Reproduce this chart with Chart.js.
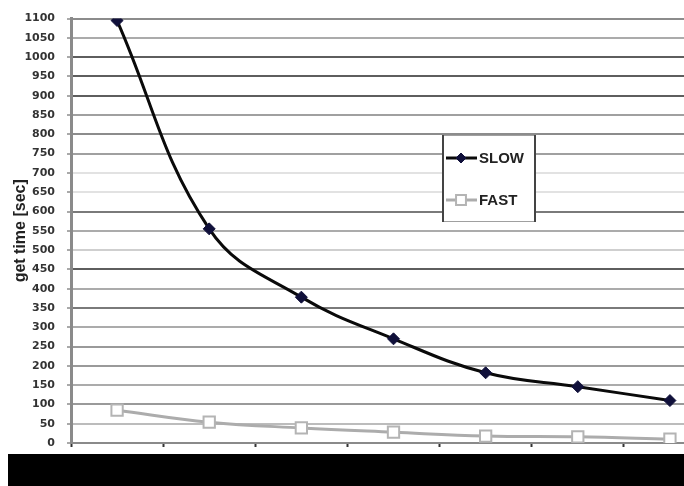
<!DOCTYPE html>
<html>
<head>
<meta charset="UTF-8">
<title>get time</title>
<script src="https://cdn.jsdelivr.net/npm/chart.js"></script>
<style>
  body { margin: 0; background: #fff; overflow: hidden; }
  #wrap { width: 684px; height: 486px; overflow: hidden; }
  canvas { display: block; }
</style>
</head>
<body>
<div id="wrap"><canvas id="c" width="726" height="486"></canvas></div>
<script>
// data
const categories = ['1', '2', '3', '4', '5', '6', '7'];
const slowTimes = [1095, 555, 378, 270, 182, 146, 110];
const fastTimes = [85, 54, 39, 28, 18, 16, 10];
const seriesNames = ['SLOW', 'FAST'];
const yTitle = 'get time [sec]';
const yMin = 0, yMax = 1100, yStep = 50;

// the scan shows uneven grid line shades
const gridShade = {
  1100: '#8c8c8c', 1050: '#ababab', 1000: '#5e5e5e', 950: '#5e5e5e', 900: '#5e5e5e',
  850: '#a0a0a0', 800: '#8c8c8c', 750: '#a0a0a0', 700: '#e2e2e2', 650: '#e2e2e2',
  600: '#7a7a7a', 550: '#ababab', 500: '#cfcfcf', 450: '#5e5e5e', 400: '#ababab',
  350: '#7a7a7a', 300: '#ababab', 250: '#9a9a9a', 200: '#9a9a9a', 150: '#ababab',
  100: '#9a9a9a', 50: '#bcbcbc', 0: '#888888'
};

// legend box drawn inside the plot
const boxLegend = {
  id: 'boxLegend',
  afterDatasetsDraw(chart) {
    const ctx = chart.ctx;
    const x0 = 442, y0 = 135, w = 94, h = 87;
    ctx.save();
    ctx.fillStyle = '#fff';
    ctx.fillRect(x0, y0, w, h);
    ctx.strokeStyle = '#a0a0a0';
    ctx.lineWidth = 1;
    ctx.beginPath();
    ctx.moveTo(x0, y0 + 0.5); ctx.lineTo(x0 + w, y0 + 0.5);
    ctx.moveTo(x0, y0 + h - 0.5); ctx.lineTo(x0 + w, y0 + h - 0.5);
    ctx.stroke();
    ctx.strokeStyle = '#444';
    ctx.lineWidth = 2;
    ctx.beginPath();
    ctx.moveTo(x0 + 1, y0); ctx.lineTo(x0 + 1, y0 + h);
    ctx.moveTo(x0 + w - 1, y0); ctx.lineTo(x0 + w - 1, y0 + h);
    ctx.stroke();

    const rows = [158, 200];
    chart.data.datasets.forEach((ds, i) => {
      const y = rows[i];
      ctx.strokeStyle = ds.borderColor;
      ctx.lineWidth = ds.borderWidth;
      ctx.beginPath();
      ctx.moveTo(446, y); ctx.lineTo(477, y);
      ctx.stroke();
      ctx.fillStyle = ds.pointBackgroundColor;
      ctx.strokeStyle = ds.pointBorderColor;
      ctx.lineWidth = ds.pointBorderWidth;
      Chart.helpers.drawPoint(ctx, {
        pointStyle: ds.pointStyle, radius: ds.pointRadius - 1,
        borderWidth: ds.pointBorderWidth, rotation: 0
      }, 461, y);
      ctx.fillStyle = '#222';
      ctx.font = 'bold 15px "Liberation Sans", Arial, sans-serif';
      ctx.textBaseline = 'middle';
      ctx.textAlign = 'left';
      ctx.fillText(ds.label, 479, y + 1);
    });
    ctx.restore();
  }
};

// black strip covering the category labels in the original
const blackStrip = {
  id: 'blackStrip',
  afterDraw(chart) {
    const ctx = chart.ctx;
    ctx.save();
    ctx.fillStyle = '#000';
    ctx.fillRect(8, 454, chart.width, chart.height - 454);
    ctx.restore();
  }
};

new Chart(document.getElementById('c'), {
  type: 'line',
  data: {
    labels: categories,
    datasets: [{
      label: seriesNames[0],
      data: slowTimes,
      borderColor: '#0a0a0a',
      borderWidth: 3,
      tension: 0.4,
      pointStyle: 'rectRot',
      pointRadius: 6,
      pointBackgroundColor: '#10103a',
      pointBorderColor: '#10103a',
      pointBorderWidth: 1
    }, {
      label: seriesNames[1],
      data: fastTimes,
      borderColor: '#acacac',
      borderWidth: 3,
      tension: 0.4,
      pointStyle: 'rect',
      pointRadius: 8,
      pointBackgroundColor: '#ffffff',
      pointBorderColor: '#b4b4b4',
      pointBorderWidth: 2
    }]
  },
  options: {
    responsive: false,
    animation: false,
    layout: { padding: { left: 0, right: 0, top: 16, bottom: 0 } },
    plugins: {
      legend: { display: false },
      tooltip: { enabled: false }
    },
    scales: {
      x: {
        offset: true,
        grid: {
          offset: true,
          drawOnChartArea: false,
          drawTicks: true,
          tickLength: 4,
          tickColor: '#333',
          tickWidth: 2
        },
        border: { color: '#8a8a8a', width: 2 },
        ticks: { display: false },
        afterFit(scale) { scale.height = 43; }
      },
      y: {
        min: yMin,
        max: yMax,
        ticks: {
          stepSize: yStep,
          autoSkip: false,
          padding: 12,
          color: '#333',
          format: { useGrouping: false },
          font: { family: '"DejaVu Sans", sans-serif', size: 11, weight: 'bold' }
        },
        grid: {
          color: ctx => gridShade[ctx.tick ? ctx.tick.value : 0] || '#aaa',
          lineWidth: 2,
          tickLength: 4,
          tickColor: '#555',
          tickWidth: 1
        },
        border: { color: '#8a8a8a', width: 3 },
        title: {
          display: true,
          text: yTitle,
          color: '#222',
          padding: { top: 11, bottom: 0 },
          font: { family: '"Liberation Sans", Arial, sans-serif', size: 16, weight: 'bold' }
        },
        afterFit(scale) { scale.width = 71; }
      }
    }
  },
  plugins: [boxLegend, blackStrip]
});
</script>
</body>
</html>
